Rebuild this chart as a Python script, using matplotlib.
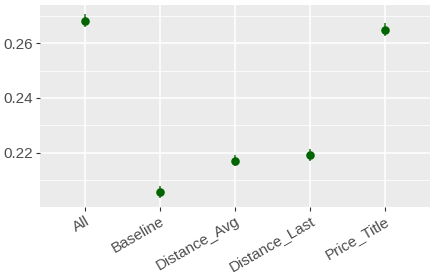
import matplotlib
matplotlib.use("Agg")
import matplotlib.pyplot as plt
from matplotlib.ticker import FixedLocator

categories = ["All", "Baseline", "Distance_Avg", "Distance_Last", "Price_Title"]
values = [0.2682, 0.2058, 0.2171, 0.2192, 0.2649]
lower = [0.2657, 0.2036, 0.2150, 0.2171, 0.2625]
upper = [0.2707, 0.2080, 0.2192, 0.2213, 0.2673]

plt.rcParams['font.family'] = ['Liberation Sans', 'DejaVu Sans']
fig = plt.figure(figsize=(4.36, 2.73), dpi=100)
ax = fig.add_axes([40/436, 1-207/273, 390/436, 202/273])
ax.set_facecolor('#EBEBEB')

x = list(range(len(categories)))
ax.vlines(x, lower, upper, color='#006400', alpha=0.7, lw=1.4, zorder=3)
ax.scatter(x, values, s=38, color='#006400', zorder=4, linewidths=0)

ax.set_xlim(-0.6, len(categories) - 0.4)
ax.set_ylim(0.2002, 0.2739)
ax.yaxis.set_major_locator(FixedLocator([0.22, 0.24, 0.26]))
ax.yaxis.set_minor_locator(FixedLocator([0.21, 0.23, 0.25, 0.27]))
ax.set_yticklabels(["0.22", "0.24", "0.26"])
ax.set_xticks(x)
ax.set_xticklabels(categories, rotation=30, ha='right', rotation_mode='anchor')

ax.grid(which='major', color='white', lw=1.1)
ax.grid(which='minor', axis='y', color='white', lw=0.55)
ax.set_axisbelow(True)
for s in ax.spines.values():
    s.set_visible(False)
ax.tick_params(which='major', length=3, width=0.8, color='#333333',
               labelsize=11, labelcolor='#4D4D4D', pad=2)
ax.tick_params(which='minor', length=0)

fig.savefig("out.png", dpi=100)
